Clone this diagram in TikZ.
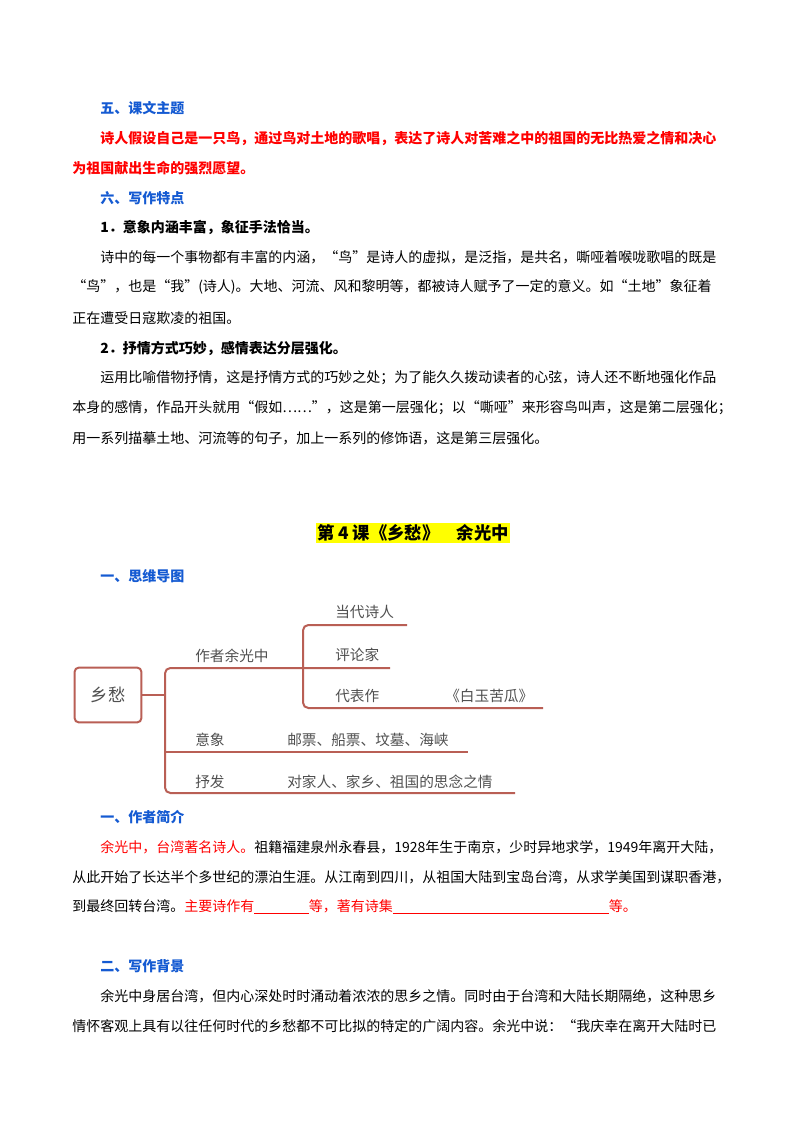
\documentclass[tikz,border=0pt]{standalone}
\usepackage{fontspec}
\newfontfamily\cjk{Noto Sans CJK SC}
\usetikzlibrary{positioning}
\definecolor{hblue}{RGB}{20,90,210}
\definecolor{mmline}{RGB}{185,95,85}
\definecolor{mmtext}{RGB}{80,80,80}
\definecolor{hilite}{RGB}{255,255,0}
\begin{document}
\begin{tikzpicture}[x=0.75pt, y=-0.75pt,
    txt/.style={anchor=west, inner sep=0pt, font=\cjk\fontsize{10.5}{12}\selectfont},
    head/.style={txt, text=hblue, font=\cjk\fontsize{10.5}{12}\selectfont\bfseries},
    redtxt/.style={txt, text=red, font=\cjk\fontsize{10.5}{12}\selectfont\bfseries},
    boldtxt/.style={txt, font=\cjk\fontsize{10.5}{12}\selectfont\bfseries},
    mm/.style={draw=mmline, line width=1.5pt, rounded corners=4pt},
    mmlabel/.style={anchor=west, inner sep=0pt, text=mmtext, font=\cjk\fontsize{11}{12}\selectfont}]
    \useasboundingbox (0,0) rectangle (800,1132);
    \fill[white] (0,0) rectangle (800,1132);

    % Upper part of the page
    \node[head] (h5) at (100,108) {五、课文主题};
    \node[redtxt] (t1) at (100,138) {诗人假设自己是一只鸟，通过鸟对土地的歌唱，表达了诗人对苦难之中的祖国的无比热爱之情和决心};
    \node[redtxt] (t2) at (72,168) {为祖国献出生命的强烈愿望。};
    \node[head] (h6) at (100,198) {六、写作特点};
    \node[boldtxt] (p1) at (100,227) {1．意象内涵丰富，象征手法恰当。};
    \node[txt] (l1) at (100,257) {诗中的每一个事物都有丰富的内涵，“鸟”是诗人的虚拟，是泛指，是共名，嘶哑着喉咙歌唱的既是};
    \node[txt] (l2) at (72,287) {“鸟”，也是“我”(诗人)。大地、河流、风和黎明等，都被诗人赋予了一定的意义。如“土地”象征着};
    \node[txt] (l3) at (72,318) {正在遭受日寇欺凌的祖国。};
    \node[boldtxt] (p2) at (100,348) {2．抒情方式巧妙，感情表达分层强化。};
    \node[txt] (l4) at (100,378) {运用比喻借物抒情，这是抒情方式的巧妙之处；为了能久久拨动读者的心弦，诗人还不断地强化作品};
    \node[txt] (l5) at (72,408) {本身的感情，作品开头就用“假如……”，这是第一层强化；以“嘶哑”来形容鸟叫声，这是第二层强化；};
    \node[txt] (l6) at (72,438) {用一系列描摹土地、河流等的句子，加上一系列的修饰语，这是第三层强化。};

    % Lesson title
    \node[fill=hilite, inner sep=1pt, font=\cjk\fontsize{13}{15}\selectfont\bfseries] (title) at (413,533) {第 4 课《乡愁》\quad 余光中};
    \node[head] (m1) at (100,576) {一、思维导图};

    % Mind map
    \node[draw=mmline, line width=1.5pt, rounded corners=3pt, minimum width=50pt, minimum height=41pt,
        text=mmtext, font=\cjk\fontsize{13}{15}\selectfont] (xc) at (108,695) {乡愁};
    \coordinate (j0) at (165,695);
    \coordinate (b1) at (165,668);
    \coordinate (b2) at (165,752);
    \coordinate (b3) at (165,793);
    \coordinate (e1) at (390,668);
    \coordinate (e2) at (468,752);
    \coordinate (e3) at (515,793);
    \coordinate (k1) at (303,625);
    \coordinate (k3) at (303,708);
    \coordinate (s1) at (407,625);
    \coordinate (s3) at (543,708);
    \draw[mm] (xc.east) -- (j0);
    \draw[mm] (e1) -- (b1) -- (b3) -- (e3);
    \draw[mm] (b2) -- (e2);
    \draw[mm] (s1) -- (k1) -- (k3) -- (s3);
    \node[mmlabel] (a1) at (195,656) {作者余光中};
    \node[mmlabel] (a11) at (335,612) {当代诗人};
    \node[mmlabel] (a12) at (335,655) {评论家};
    \node[mmlabel] (a13) at (335,696) {代表作};
    \node[mmlabel] (a14) at (445,696) {《白玉苦瓜》};
    \node[mmlabel] (a2) at (195,740) {意象};
    \node[mmlabel] (a21) at (287,740) {邮票、船票、坟墓、海峡};
    \node[mmlabel] (a3) at (195,782) {抒发};
    \node[mmlabel] (a31) at (287,782) {对家人、家乡、祖国的思念之情};

    % Lower part of the page
    \node[head] (h1) at (100,817) {一、作者简介};
    \node[txt] (b1l) at (100,847) {\textcolor{red}{余光中，台湾著名诗人。}祖籍福建泉州永春县，1928年生于南京，少时异地求学，1949年离开大陆，};
    \node[txt] (b2l) at (72,877) {从此开始了长达半个多世纪的漂泊生涯。从江南到四川，从祖国大陆到宝岛台湾，从求学美国到谋职香港，};
    \node[txt] (b3l) at (72,907) {到最终回转台湾。\textcolor{red}{主要诗作有\underline{\hspace{41pt}}等，著有诗集\underline{\hspace{162pt}}等。}};
    \node[head] (h2) at (100,966) {二、写作背景};
    \node[txt] (c1) at (100,996) {余光中身居台湾，但内心深处时时涌动着浓浓的思乡之情。同时由于台湾和大陆长期隔绝，这种思乡};
    \node[txt] (c2) at (72,1026) {情怀客观上具有以往任何时代的乡愁都不可比拟的特定的广阔内容。余光中说：“我庆幸在离开大陆时已};
\end{tikzpicture}
\end{document}
